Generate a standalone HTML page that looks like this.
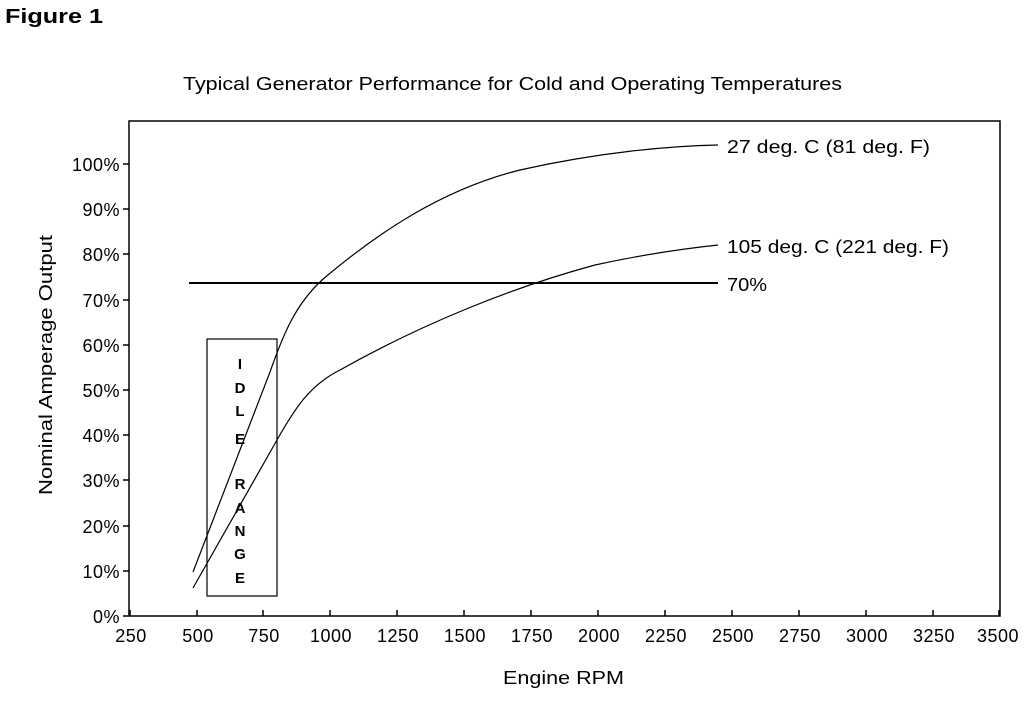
<!DOCTYPE html>
<html><head><meta charset="utf-8"><style>
body{margin:0;background:#fff;width:1024px;height:698px;overflow:hidden}
svg text{font-family:"Liberation Sans",sans-serif;fill:#000}
</style></head><body>
<svg width="1024" height="698" viewBox="0 0 1024 698" xmlns="http://www.w3.org/2000/svg">
<text x="5" y="23" font-size="20" font-weight="bold" textLength="98" lengthAdjust="spacingAndGlyphs">Figure 1</text>
<text x="183" y="90" font-size="18" textLength="659" lengthAdjust="spacingAndGlyphs">Typical Generator Performance for Cold and Operating Temperatures</text>
<rect x="129" y="121" width="871" height="495" fill="none" stroke="#000" stroke-width="1.5"/>
<g stroke="#000" stroke-width="1.5">
<line x1="123" y1="616" x2="129" y2="616"/><line x1="123" y1="571" x2="129" y2="571"/><line x1="123" y1="526" x2="129" y2="526"/><line x1="123" y1="480" x2="129" y2="480"/><line x1="123" y1="435" x2="129" y2="435"/><line x1="123" y1="390" x2="129" y2="390"/><line x1="123" y1="345" x2="129" y2="345"/><line x1="123" y1="300" x2="129" y2="300"/><line x1="123" y1="254" x2="129" y2="254"/><line x1="123" y1="209" x2="129" y2="209"/><line x1="123" y1="164" x2="129" y2="164"/>
</g>
<g font-size="18" text-anchor="end" letter-spacing="0.5">
<text x="120" y="623">0%</text><text x="120" y="578">10%</text><text x="120" y="533">20%</text><text x="120" y="487">30%</text><text x="120" y="442">40%</text><text x="120" y="397">50%</text><text x="120" y="352">60%</text><text x="120" y="307">70%</text><text x="120" y="261">80%</text><text x="120" y="216">90%</text><text x="120" y="171">100%</text>
</g>
<g stroke="#000" stroke-width="1.5">
<line x1="130" y1="610" x2="130" y2="616"/><line x1="197" y1="610" x2="197" y2="616"/><line x1="263" y1="610" x2="263" y2="616"/><line x1="330" y1="610" x2="330" y2="616"/><line x1="397" y1="610" x2="397" y2="616"/><line x1="464" y1="610" x2="464" y2="616"/><line x1="531" y1="610" x2="531" y2="616"/><line x1="598" y1="610" x2="598" y2="616"/><line x1="665" y1="610" x2="665" y2="616"/><line x1="732" y1="610" x2="732" y2="616"/><line x1="799" y1="610" x2="799" y2="616"/><line x1="866" y1="610" x2="866" y2="616"/><line x1="933" y1="610" x2="933" y2="616"/><line x1="999" y1="610" x2="999" y2="616"/>
</g>
<g font-size="18" text-anchor="middle" letter-spacing="0.5">
<text x="131" y="642">250</text><text x="198" y="642">500</text><text x="264" y="642">750</text><text x="331" y="642">1000</text><text x="398" y="642">1250</text><text x="465" y="642">1500</text><text x="532" y="642">1750</text><text x="599" y="642">2000</text><text x="666" y="642">2250</text><text x="733" y="642">2500</text><text x="800" y="642">2750</text><text x="867" y="642">3000</text><text x="934" y="642">3250</text><text x="998" y="642">3500</text>
</g>
<text x="503" y="684" font-size="18" textLength="121" lengthAdjust="spacingAndGlyphs">Engine RPM</text>
<text transform="translate(52,365) rotate(-90)" x="-130" font-size="18" textLength="260" lengthAdjust="spacingAndGlyphs">Nominal Amperage Output</text>
<rect x="207" y="339" width="70" height="257" fill="none" stroke="#000" stroke-width="1.2"/>
<g font-size="15" text-anchor="middle" font-weight="bold">
<text x="240" y="369">I</text><text x="240" y="393">D</text><text x="240" y="416">L</text><text x="240" y="444">E</text><text x="240" y="489">R</text><text x="240" y="513">A</text><text x="240" y="536">N</text><text x="240" y="559">G</text><text x="240" y="583">E</text>
</g>
<line x1="189" y1="283" x2="718" y2="283" stroke="#000" stroke-width="2"/>
<path d="M193,572 L270,372 C283,335 295,305 322,280 C375,235 440,190 520,170 C600,152 670,146 718,145" fill="none" stroke="#000" stroke-width="1.2"/>
<path d="M193,588 L277,440 C295,408 310,385 340,370 C420,325 510,288 595,265 C650,253 690,248 718,245" fill="none" stroke="#000" stroke-width="1.2"/>
<text x="727" y="153" font-size="18" textLength="203" lengthAdjust="spacingAndGlyphs">27 deg. C (81 deg. F)</text>
<text x="727" y="253" font-size="18" textLength="222" lengthAdjust="spacingAndGlyphs">105 deg. C (221 deg. F)</text>
<text x="727" y="291" font-size="18" textLength="40" lengthAdjust="spacingAndGlyphs">70%</text>
</svg>
</body></html>
